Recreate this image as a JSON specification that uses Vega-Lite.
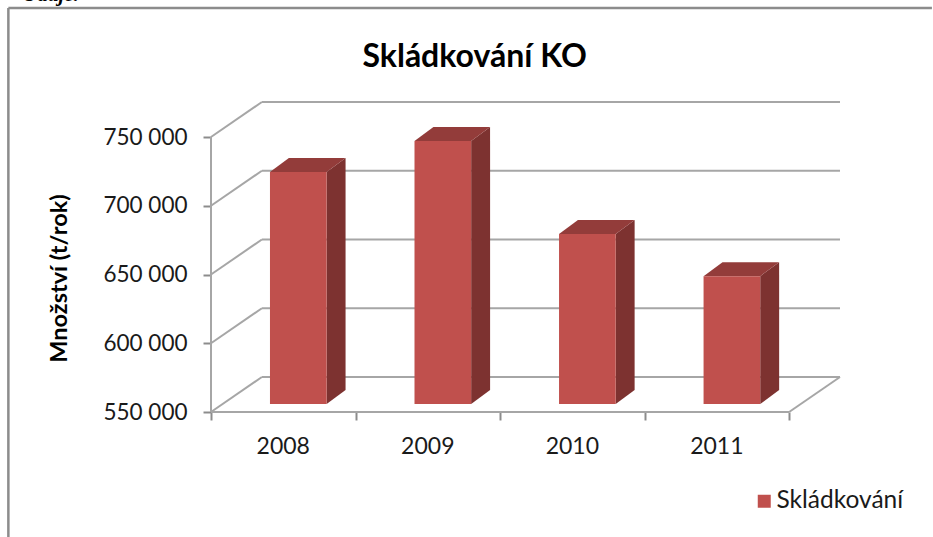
{
"$schema":"https://vega.github.io/schema/vega-lite/v6.json",
"width":629,"height":310,
"autosize":{"type":"none"},
"padding":{"left":211,"top":102,"right":93,"bottom":125},
"background":"#ffffff",
"view":{"stroke":null},
"config":{"font":"Lato"},
"datasets":{
"bars":[{"year":"2008","i":0,"value":718700,"series":"Skládkování"},{"year":"2009","i":1,"value":741300,"series":"Skládkování"},{"year":"2010","i":2,"value":673600,"series":"Skládkování"},{"year":"2011","i":3,"value":643000,"series":"Skládkování"}],
"ticks":[{"v":550000},{"v":600000},{"v":650000},{"v":700000},{"v":750000}]
},
"resolve":{"scale":{"x":"shared","y":"shared"}},
"layer":[
{"data":{"name":"ticks"},"mark":{"type":"rule","color":"#a6a6a6","strokeWidth":2,"clip":false},
 "transform":[{"calculate":"datum.v+25455","as":"back"}],
 "encoding":{"x":{"datum":0,"type":"quantitative","scale":{"domain":[0,4.352],"nice":false,"zero":false},
    "axis":{"values":[0,1,2,3,4],"labels":false,"title":null,"grid":false,"domain":false,"tickColor":"#8c8c8c","tickWidth":2,"tickSize":8}},
   "x2":{"datum":0.352},
   "y":{"field":"v","type":"quantitative","scale":{"domain":[550000,775455],"nice":false,"zero":false},
    "axis":{"values":[550000,600000,650000,700000,750000],"labelExpr":"replace(format(datum.value,','),',',' ')","labelFontSize":22.5,"labelColor":"#1a1a1a","labelPadding":16,"title":"Množství (t/rok)","titleFontSize":23.5,"titleFontWeight":"bold","titleColor":"#000000","titleX":-140,"titleY":176,"grid":false,"domain":false,"tickColor":"#8c8c8c","tickWidth":2,"tickSize":8}},
   "y2":{"field":"back"}}},
{"data":{"name":"ticks"},"mark":{"type":"rule","color":"#a6a6a6","strokeWidth":2},
 "transform":[{"calculate":"datum.v+25455","as":"back"}],
 "encoding":{"x":{"datum":0.352,"type":"quantitative"},"x2":{"datum":4.352},"y":{"field":"back","type":"quantitative"}}},
{"mark":{"type":"rule","color":"#a6a6a6","strokeWidth":2},"data":{"values":[{"a":550000,"b":750000}]},
 "encoding":{"x":{"datum":0,"type":"quantitative"},"y":{"field":"a","type":"quantitative"},"y2":{"field":"b"}}},
{"mark":{"type":"rule","color":"#a6a6a6","strokeWidth":2},"data":{"values":[{"a":550000}]},
 "encoding":{"x":{"datum":0,"type":"quantitative"},"x2":{"datum":4},"y":{"field":"a","type":"quantitative"}}},
{"mark":{"type":"rule","color":"#a6a6a6","strokeWidth":2},"data":{"values":[{"a":550000,"b":575455}]},
 "encoding":{"x":{"datum":4,"type":"quantitative"},"x2":{"datum":4.352},"y":{"field":"a","type":"quantitative"},"y2":{"field":"b"}}},
{"data":{"name":"bars"},"mark":{"type":"area","orient":"vertical","color":"#7d3230"},
 "transform":[{"calculate":"[0,1]","as":"d"},{"flatten":["d"]},
   {"calculate":"datum.i+0.80+datum.d*0.131","as":"sx"},
   {"calculate":"datum.value+5818+datum.d*10182","as":"st"},
   {"calculate":"555818+datum.d*10182","as":"sb"}],
 "encoding":{"x":{"field":"sx","type":"quantitative"},"y":{"field":"st","type":"quantitative"},"y2":{"field":"sb"},"detail":{"field":"year"}}},
{"data":{"name":"bars"},"mark":{"type":"area","orient":"horizontal","color":"#933c3a"},
 "transform":[{"calculate":"[0,1]","as":"d"},{"flatten":["d"]},
   {"calculate":"datum.i+0.408+datum.d*0.131","as":"tx0"},
   {"calculate":"datum.i+0.80+datum.d*0.131","as":"tx1"},
   {"calculate":"datum.value+5818+datum.d*10182","as":"ty"}],
 "encoding":{"x":{"field":"tx0","type":"quantitative"},"x2":{"field":"tx1"},"y":{"field":"ty","type":"quantitative"},"detail":{"field":"year"}}},
{"data":{"name":"bars"},"mark":{"type":"rect"},
 "transform":[{"calculate":"datum.i+0.408","as":"fx0"},{"calculate":"datum.i+0.80","as":"fx1"},{"calculate":"datum.value+5818","as":"ft"},{"calculate":"555818","as":"fb"}],
 "encoding":{"x":{"field":"fx0","type":"quantitative"},"x2":{"field":"fx1"},"y":{"field":"ft","type":"quantitative"},"y2":{"field":"fb"},
   "color":{"field":"series","type":"nominal","scale":{"range":["#c0504d"]},
    "legend":{"title":null,"orient":"none","legendX":541,"legendY":387,"symbolType":"square","symbolSize":169,"labelFontSize":24.5,"labelColor":"#1a1a1a","symbolStrokeWidth":0,"labelOffset":0}}}},
{"data":{"name":"bars"},"mark":{"type":"text","fontSize":23,"color":"#1a1a1a","baseline":"middle","dy":35},
 "transform":[{"calculate":"datum.i+0.5","as":"c"}],
 "encoding":{"x":{"field":"c","type":"quantitative"},"y":{"datum":550000,"type":"quantitative"},"text":{"field":"year"}}},
{"data":{"values":[{"t":"Skládkování KO"}]},"mark":{"type":"text","fontSize":32,"fontWeight":"bold","color":"#000000","baseline":"middle","align":"center"},
 "encoding":{"x":{"datum":1.824,"type":"quantitative"},"y":{"datum":808000,"type":"quantitative"},"text":{"field":"t"}}},
{"data":{"values":[{"t":"Údaje."}]},"mark":{"type":"text","font":"Liberation Serif","fontSize":21,"fontWeight":"bold","fontStyle":"italic","color":"#000000","baseline":"alphabetic","align":"left"},
 "encoding":{"x":{"datum":-1.306,"type":"quantitative"},"y":{"datum":849000,"type":"quantitative"},"text":{"field":"t"}}},
{"mark":{"type":"rule","color":"#8c8c8c","strokeWidth":2.5,"clip":false},"data":{"values":[{"a":843818}]},
 "encoding":{"x":{"datum":-1.402,"type":"quantitative"},"x2":{"datum":4.988},"y":{"field":"a","type":"quantitative"}}},
{"mark":{"type":"rule","color":"#8c8c8c","strokeWidth":2.5,"clip":false},"data":{"values":[{"a":843818,"b":455000}]},
 "encoding":{"x":{"datum":-1.402,"type":"quantitative"},"y":{"field":"a","type":"quantitative"},"y2":{"field":"b"}}}
]
}
